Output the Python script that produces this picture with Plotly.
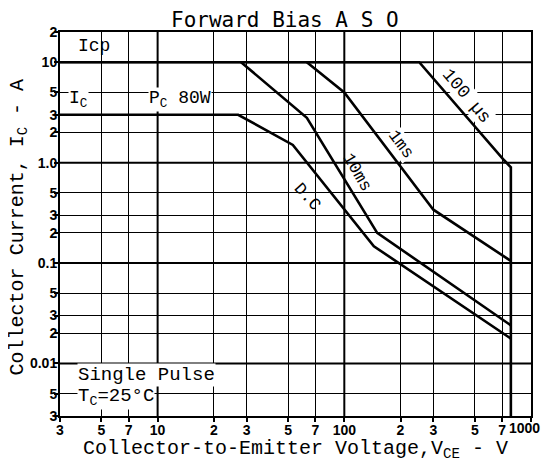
import plotly.graph_objects as go

# ---- data ----
x_tickvals = [3, 5, 7, 10, 20, 30, 50, 70, 100, 200, 300, 500, 700, 1000]
x_ticktext = ["3", "5", "7", "10", "2", "3", "5", "7", "100", "2", "3", "5", "7", "1000"]
y_tickvals = [0.003, 0.005, 0.01, 0.02, 0.03, 0.05, 0.1, 0.2, 0.3, 0.5, 1, 2, 3, 5, 10, 20]
y_ticktext = ["3", "5", "0.01", "2", "3", "5", "0.1", "2", "3", "5", "1.0", "2", "3", "5", "10", "2"]
decades_x = [10, 100]
decades_y = [0.01, 0.1, 1, 10]

# Icp line continuing into the 100 us boundary and VCEO limit
us100_v = [3, 252, 720, 780, 780]
us100_i = [10, 10, 1.05, 0.9, 0.003]
ms1_v = [63, 100, 300, 780]
ms1_i = [10, 5, 0.34, 0.105]
ms10_v = [28, 63, 150, 780]
ms10_i = [10, 2.8, 0.2, 0.024]
dc_v = [3, 27, 53, 144, 780]
dc_i = [3, 3, 1.5, 0.147, 0.0177]

X_RANGE = (3, 1000)
Y_RANGE = (0.003, 20)

fig = go.Figure()

# heavier decade grid lines
for d in decades_x:
    fig.add_trace(go.Scatter(x=[d, d], y=list(Y_RANGE), mode="lines",
                             line=dict(color="black", width=2), hoverinfo="skip", showlegend=False))
for d in decades_y:
    fig.add_trace(go.Scatter(x=list(X_RANGE), y=[d, d], mode="lines",
                             line=dict(color="black", width=2), hoverinfo="skip", showlegend=False))

for xs, ys in [(us100_v, us100_i), (ms1_v, ms1_i), (ms10_v, ms10_i), (dc_v, dc_i)]:
    fig.add_trace(go.Scatter(x=xs, y=ys, mode="lines",
                             line=dict(color="black", width=2.6), showlegend=False))

mono = "Liberation Mono, DejaVu Sans Mono, monospace"
tick_font = dict(family="Liberation Sans, Arial, sans-serif", size=14, color="black", weight="bold")
anns = []
def ann(text, x, y, size=18, angle=0, xanchor="center", bg=None, family=mono, font=None):
    d = dict(text=text, x=x, y=y, xref="paper", yref="paper", showarrow=False,
             font=font or dict(family=family, size=size, color="black"), textangle=angle,
             xanchor=xanchor, yanchor="middle", borderpad=0)
    if bg:
        d["bgcolor"] = bg
    anns.append(d)

ann("Forward Bias A S O", 0.478, 1.03, size=21, family="DejaVu Sans Mono, monospace")
ann("Icp", 0.036, 0.964, size=18, xanchor="left")
ann("I<sub>C</sub>", 0.017, 0.823, size=18, xanchor="left", bg="white")
ann("P<sub>C</sub> 80W", 0.186, 0.823, size=18, xanchor="left", bg="white")
ann("Single Pulse", 0.036, 0.107, size=19, xanchor="left", bg="white")
ann("T<sub>C</sub>=25°C", 0.036, 0.049, size=19, xanchor="left", bg="white")
ann("100 µs", 0.863, 0.833, size=18, angle=50, bg="white")
ann("1ms", 0.723, 0.706, size=17, angle=53, bg="white")
ann("10ms", 0.630, 0.633, size=17, angle=60)
ann("D.C", 0.526, 0.570, size=17, angle=48)
ann("Collector-to-Emitter Voltage,V<sub>CE</sub> - V", 0.499, -0.088, size=20)
ann("Collector Current, I<sub>C</sub> - A", -0.088, 0.49, size=20, angle=-90)
# last x tick label, kept inside the page edge
ann(x_ticktext[-1], 1.021, -0.031, xanchor="right", font=tick_font)

axis_common = dict(type="log", showgrid=True, gridcolor="black", gridwidth=1.4,
                   showline=True, linecolor="black", linewidth=2, mirror=True,
                   ticks="outside", ticklen=4, tickcolor="black", tickwidth=1.5,
                   tickfont=tick_font, zeroline=False)

# page body has an 8px margin on every side, so the figure is 16px smaller than the window
fig.update_layout(
    width=536, height=455,
    margin=dict(l=52, r=11, t=24, b=47),
    paper_bgcolor="white", plot_bgcolor="white",
    xaxis=dict(axis_common, range=[0.4771, 3.0], tickmode="array",
               tickvals=x_tickvals, ticktext=x_ticktext[:-1] + [""], ticklabelstandoff=-4),
    yaxis=dict(axis_common, range=[-2.5229, 1.30103], tickmode="array",
               tickvals=y_tickvals, ticktext=y_ticktext, ticklabelstandoff=-6),
    annotations=anns,
    showlegend=False,
)

fig.write_html("out.html")
